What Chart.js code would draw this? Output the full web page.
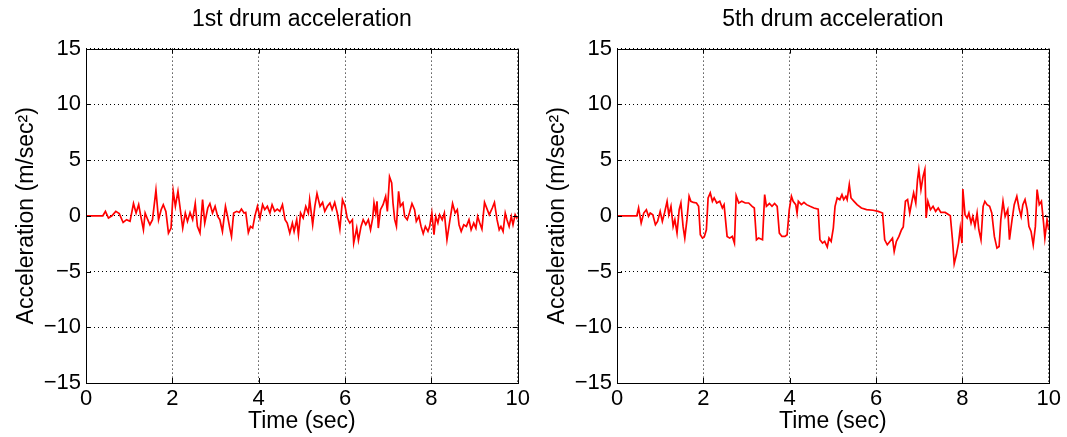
<!DOCTYPE html>
<html>
<head>
<meta charset="utf-8">
<script src="https://cdn.jsdelivr.net/npm/chart.js@4.4.1/dist/chart.umd.min.js"></script>
<style>
  html, body { margin: 0; padding: 0; background: #fff; }
  body { width: 1067px; height: 437px; position: relative; overflow: hidden; }
  .box { position: absolute; top: 0; width: 533px; height: 437px; }
</style>
</head>
<body>
<div class="box" style="left:0"><canvas id="drum1"></canvas></div>
<div class="box" style="left:531px"><canvas id="drum5"></canvas></div>
<script>
// tick values
const xTickValues = [0, 2, 4, 6, 8, 10];
const yTickValues = [-15, -10, -5, 0, 5, 10, 15];

// 1st drum
const drum1Time = [0, 0.39, 0.45, 0.52, 0.6, 0.69, 0.77, 0.86, 0.94, 1.02, 1.1, 1.16, 1.22, 1.27, 1.33, 1.37, 1.43, 1.48, 1.54, 1.62,
  1.68, 1.74, 1.79, 1.85, 1.91, 1.97, 2.02, 2.07, 2.13, 2.18, 2.24, 2.3, 2.35, 2.41, 2.47, 2.53, 2.58, 2.64, 2.7, 2.75,
  2.82, 2.87, 2.93, 2.99, 3.05, 3.1, 3.16, 3.23, 3.28, 3.33, 3.37, 3.42, 3.49, 3.55, 3.6, 3.66, 3.7, 3.76, 3.81, 3.86,
  3.91, 3.97, 4.03, 4.09, 4.14, 4.2, 4.26, 4.31, 4.37, 4.43, 4.49, 4.55, 4.61, 4.66, 4.72, 4.78, 4.82, 4.88, 4.92, 4.97,
  5.03, 5.09, 5.15, 5.18, 5.25, 5.3, 5.35, 5.42, 5.48, 5.53, 5.59, 5.65, 5.7, 5.76, 5.82, 5.88, 5.94, 6.0, 6.05, 6.11,
  6.17, 6.2, 6.27, 6.31, 6.37, 6.42, 6.48, 6.54, 6.59, 6.64, 6.67, 6.71, 6.74, 6.77, 6.82, 6.88, 6.94, 6.98, 7.03, 7.08,
  7.11, 7.15, 7.19, 7.24, 7.28, 7.34, 7.38, 7.44, 7.49, 7.55, 7.61, 7.65, 7.71, 7.76, 7.81, 7.86, 7.92, 7.96, 8.01, 8.06,
  8.1, 8.15, 8.19, 8.25, 8.3, 8.36, 8.43, 8.49, 8.55, 8.6, 8.64, 8.69, 8.75, 8.81, 8.87, 8.92, 8.98, 9.03, 9.07, 9.12,
  9.17, 9.23, 9.29, 9.34, 9.41, 9.46, 9.52, 9.57, 9.61, 9.66, 9.71, 9.75, 9.8, 9.85, 9.89, 9.94, 9.98, 10.0];
const drum1Accel = [0, 0, 0.4, -0.2, 0, 0.4, 0.2, -0.6, -0.35, -0.5, 1.1, 0.25, 1.0, -0.05, -1.25, 0.25, -0.35, -0.8, -0.35, 2.3,
  -0.35, 0.55, 1.0, 0.4, -1.55, -1.1, 2.2, 0.85, 2.2, 0.7, -1.1, 0.25, -0.5, 0.3, -0.35, 1.1, -0.95, -1.55, 1.45, -0.65,
  0.7, 1.1, 0.25, 0.85, -0.05, -0.35, -1.4, 0.85, -0.05, -1.1, -1.85, 0.25, 0.4, 0.3, 0.6, 0.25, 0.3, -1.5, -0.95, -1.1,
  -0.05, 0.85, -0.2, 1.0, 0.55, 0.85, 0.25, 1.0, 0.4, 0.6, 0.4, 1.0, -0.35, -0.65, -1.55, -0.65, -1.4, -0.35, -1.7, 0.25,
  -0.2, 0.85, 0.25, 1.45, -0.8, 0.85, 2.0, 0.85, 1.2, 0.4, 0.85, 1.15, 0.55, 1.2, 0.25, -1.2, 1.45, 0.85, -0.2, -0.65,
  -0.35, -2.45, -1.1, -2.2, -0.95, -0.35, -0.8, -0.35, -1.25, -0.2, 1.15, 0.25, 1.3, -1.1, 0.55, 1.0, 1.75, 0.4, 3.5, 2.95,
  1.15, -0.35, -0.95, 2.2, 0.85, 1.15, -0.05, -0.35, 0.25, 1.1, 0.55, -0.5, -0.05, -0.95, -1.6, -0.95, -1.4, -0.95, 0.25, -1.7,
  -0.05, -0.65, 0.1, -0.35, 0.25, -2.15, -0.35, 1.1, 0.25, 0.55, -0.8, -1.4, -0.8, -0.95, -0.35, -1.25, -0.65, -1.1, -0.05, -0.65,
  -1.2, 1.2, 0.6, 0.1, 0.7, 1.2, -0.35, -1.25, -0.95, -1.4, 0.25, -0.35, -0.95, -0.05, -0.8, 0.1, -0.2, -0.05];

// 5th drum
const drum5Time = [0, 0.46, 0.5, 0.56, 0.62, 0.68, 0.73, 0.77, 0.83, 0.89, 0.94, 1.0, 1.05, 1.1, 1.16, 1.2, 1.25, 1.3, 1.34, 1.39,
  1.44, 1.48, 1.53, 1.57, 1.62, 1.67, 1.71, 1.77, 1.84, 1.89, 1.93, 1.98, 2.02, 2.07, 2.11, 2.16, 2.21, 2.25, 2.31, 2.38,
  2.44, 2.48, 2.55, 2.61, 2.67, 2.72, 2.76, 2.82, 2.89, 2.97, 3.05, 3.13, 3.18, 3.23, 3.28, 3.37, 3.42, 3.46, 3.53, 3.59,
  3.65, 3.71, 3.76, 3.82, 3.89, 3.94, 3.99, 4.04, 4.08, 4.14, 4.17, 4.2, 4.27, 4.33, 4.39, 4.47, 4.56, 4.66, 4.7, 4.76,
  4.81, 4.87, 4.91, 4.96, 5.01, 5.05, 5.1, 5.16, 5.21, 5.25, 5.3, 5.33, 5.38, 5.42, 5.49, 5.56, 5.66, 5.78, 5.93, 6.05,
  6.15, 6.2, 6.26, 6.32, 6.38, 6.42, 6.47, 6.53, 6.59, 6.63, 6.68, 6.73, 6.78, 6.83, 6.87, 6.92, 6.96, 6.99, 7.04, 7.09,
  7.13, 7.16, 7.2, 7.26, 7.32, 7.38, 7.44, 7.5, 7.6, 7.72, 7.77, 7.81, 7.86, 7.91, 7.95, 7.99, 8.01, 8.06, 8.11, 8.15,
  8.2, 8.24, 8.29, 8.34, 8.38, 8.43, 8.48, 8.52, 8.57, 8.63, 8.68, 8.74, 8.8, 8.85, 8.89, 8.94, 8.99, 9.05, 9.09, 9.15,
  9.2, 9.26, 9.31, 9.36, 9.4, 9.45, 9.5, 9.54, 9.59, 9.64, 9.69, 9.73, 9.78, 9.83, 9.88, 9.91, 9.96, 10.0];
const drum5Accel = [0, 0, 0.7, -0.65, 0.25, 0.55, -0.05, 0.25, 0.1, -0.8, -0.5, 0.4, -0.5, 0.25, 1.3, 0.1, 0.85, -0.95, -0.35, -1.55,
  0.55, 1.15, -0.95, -2.0, -0.35, 1.75, 1.3, 1.2, 1.15, 0.85, -1.7, -2.0, -1.9, -1.25, 1.6, 2.05, 1.3, 1.6, 1.15, 1.3,
  0.7, 1.0, -1.85, -2.0, -1.85, -2.45, 1.8, 1.15, 1.3, 1.15, 1.15, 0.85, 0.7, -2.15, -2.0, -2.15, 1.9, 0.85, 1.1, 0.85,
  1.1, 0.85, -1.55, -1.85, -1.85, -1.7, 0.55, 1.75, 1.3, 1.0, 0.25, 1.3, 1.0, 1.2, 1.0, 0.85, 0.7, 0.6, -2.15, -2.45,
  -2.3, -2.8, -2.0, -2.3, -1.1, 0.85, 1.6, 1.45, 1.9, 1.45, 1.75, 1.45, 2.8, 1.6, 1.3, 1.0, 0.7, 0.55, 0.5, 0.4,
  0.25, -2.15, -2.6, -2.3, -2.0, -3.2, -2.3, -1.85, -1.25, -1.0, 1.3, 1.45, 0.25, 1.3, 2.05, 1.15, 3.25, 4.15, 2.35, 3.55,
  4.15, -0.2, 1.3, 0.55, 0.85, 0.4, 0.7, 0.3, 0.3, 0, -2.15, -4.3, -3.5, -2.45, -1.1, -2.45, 2.4, 0.1, -0.2, 0.25,
  -0.65, -0.05, -0.95, 0.25, -1.25, -2.15, 0.85, 1.3, 1.0, 0.85, 0.25, -1.85, -2.9, -2.75, -0.35, 1.3, -0.05, 0.55, -2.15, -0.35,
  1.0, 1.75, 0.7, -0.05, 1.0, 1.45, 0.55, -0.95, -1.4, -2.6, -0.95, 2.35, 1.0, 1.3, -0.65, -2.0, -0.35, -1.25];

const FONT = 'Liberation Sans, Arial, Helvetica, sans-serif';

// box round the plot area and inward tick marks, like the original
const boxPlugin = {
  id: 'boxPlugin',
  afterDraw(chart) {
    const { ctx, chartArea: a, scales } = chart;
    ctx.save();
    ctx.strokeStyle = '#000';
    ctx.lineWidth = 1;
    ctx.setLineDash([]);
    ctx.strokeRect(Math.round(a.left) + 0.5, Math.round(a.top) + 0.5,
      Math.round(a.right - a.left), Math.round(a.bottom - a.top));
    const len = 5;
    ctx.beginPath();
    xTickValues.forEach(v => {
      const x = Math.round(scales.x.getPixelForValue(v)) + 0.5;
      ctx.moveTo(x, a.bottom); ctx.lineTo(x, a.bottom - len);
      ctx.moveTo(x, a.top); ctx.lineTo(x, a.top + len);
    });
    yTickValues.forEach(v => {
      const y = Math.round(scales.y.getPixelForValue(v)) + 0.5;
      ctx.moveTo(a.left, y); ctx.lineTo(a.left + len, y);
      ctx.moveTo(a.right, y); ctx.lineTo(a.right - len, y);
    });
    ctx.stroke();
    ctx.restore();
  }
};

function makeChart(id, title, times, values) {
  const points = times.map((t, i) => ({ x: t, y: values[i] }));
  return new Chart(document.getElementById(id), {
    type: 'line',
    data: {
      datasets: [{
        data: points,
        borderColor: '#ff0000',
        borderWidth: 1.7,
        pointRadius: 0,
        tension: 0,
        fill: false
      }]
    },
    options: {
      responsive: true,
      maintainAspectRatio: false,
      animation: false,
      events: [],
      layout: { padding: { left: 0, right: 15, top: 0, bottom: 0 } },
      plugins: {
        legend: { display: false },
        tooltip: { enabled: false },
        title: {
          display: true,
          fullSize: false,
          text: title,
          color: '#000',
          font: { family: FONT, size: 23, weight: 'normal', lineHeight: 1.2 },
          padding: { top: 6, bottom: 15 }
        }
      },
      scales: {
        x: {
          type: 'linear',
          min: 0,
          max: 10,
          afterBuildTicks: s => { s.ticks = xTickValues.map(v => ({ value: v })); },
          afterFit: s => { s.height = 54; },
          grid: { color: '#000', lineWidth: 1, drawTicks: false },
          border: { display: false, dash: [1, 3] },
          ticks: {
            color: '#000',
            padding: 3,
            maxRotation: 0,
            font: { family: FONT, size: 22 },
            callback: v => String(v)
          },
          title: {
            display: true,
            text: 'Time (sec)',
            color: '#000',
            font: { family: FONT, size: 23, lineHeight: 1.2 },
            padding: { top: 0, bottom: 2 }
          }
        },
        y: {
          min: -15,
          max: 15,
          afterBuildTicks: s => { s.ticks = yTickValues.map(v => ({ value: v })); },
          afterFit: s => { s.width = 86; },
          grid: { color: '#000', lineWidth: 1, drawTicks: false },
          border: { display: false, dash: [1, 3] },
          ticks: {
            color: '#000',
            padding: 5,
            font: { family: FONT, size: 22 },
            callback: v => String(v).replace('-', '\u2212')
          },
          title: {
            display: true,
            text: 'Acceleration (m/sec\u00b2)',
            color: '#000',
            font: { family: FONT, size: 23, lineHeight: 1.2 },
            padding: { top: 13, bottom: 0 }
          }
        }
      }
    },
    plugins: [boxPlugin]
  });
}

makeChart('drum1', '1st drum acceleration', drum1Time, drum1Accel);
makeChart('drum5', '5th drum acceleration', drum5Time, drum5Accel);
</script>
</body>
</html>
